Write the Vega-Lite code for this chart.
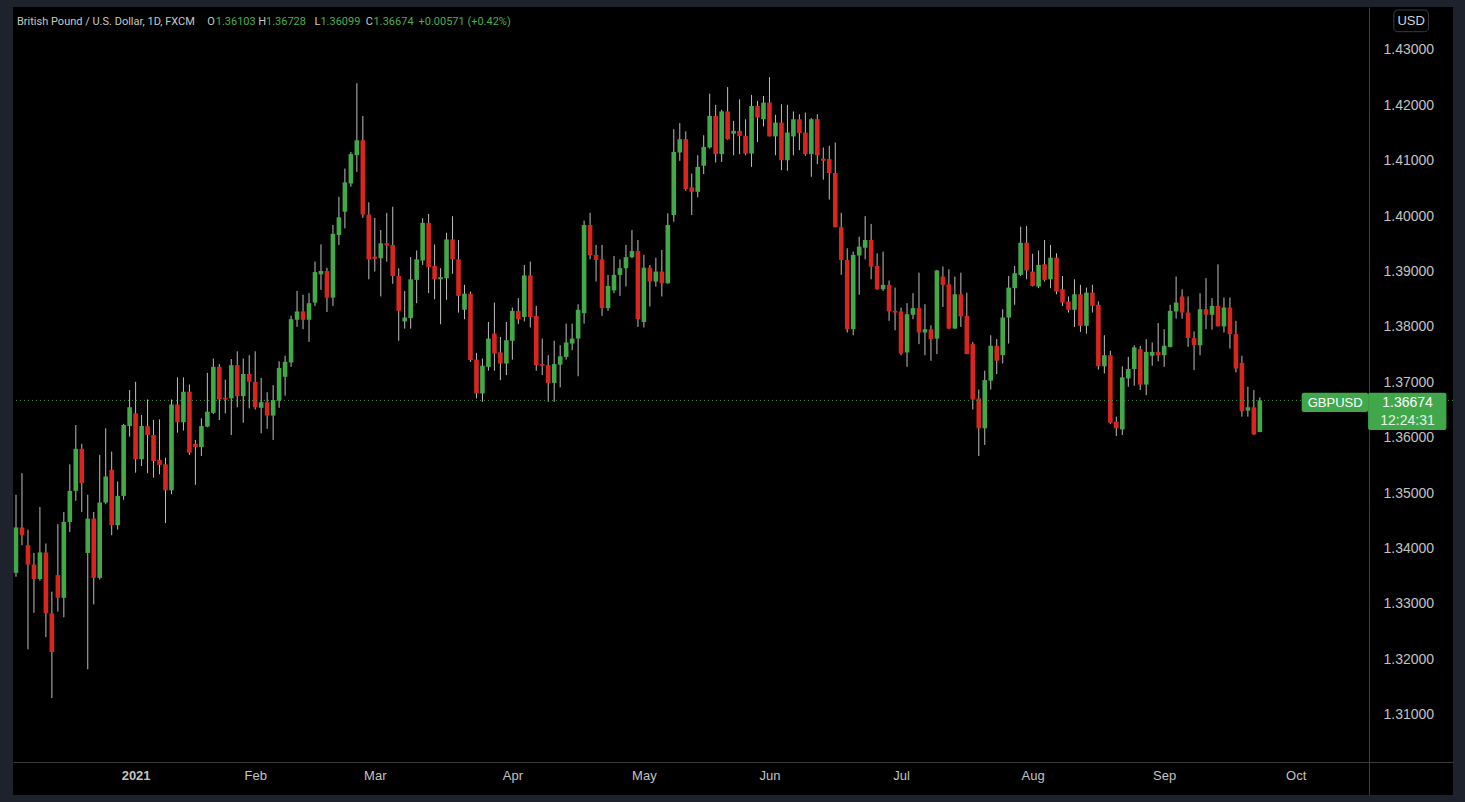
{
  "$schema": "https://vega.github.io/schema/vega-lite/v6.json",
  "width": 1440,
  "height": 788,
  "autosize": {"type": "none"},
  "padding": {"left": 13, "top": 7, "right": 12, "bottom": 7},
  "background": "#1e222d",
  "config": {
    "view": {"fill": "#000000", "stroke": null},
    "axis": {"title": null, "grid": false},
    "text": {"font": "Roboto", "fontSize": 11, "align": "left", "baseline": "middle"}
  },
  "data": {
    "values": [
      {"d":"2020-12-03","o":1.3356,"h":1.3497,"l":1.3349,"c":1.3438},
      {"d":"2020-12-04","o":1.3438,"h":1.3536,"l":1.3406,"c":1.3424},
      {"d":"2020-12-07","o":1.3406,"h":1.3434,"l":1.3218,"c":1.3371},
      {"d":"2020-12-08","o":1.3371,"h":1.3392,"l":1.3284,"c":1.3345},
      {"d":"2020-12-09","o":1.3345,"h":1.3475,"l":1.3342,"c":1.3393},
      {"d":"2020-12-10","o":1.3393,"h":1.3409,"l":1.3240,"c":1.3283},
      {"d":"2020-12-11","o":1.3283,"h":1.3322,"l":1.3130,"c":1.3213},
      {"d":"2020-12-14","o":1.3352,"h":1.3444,"l":1.3286,"c":1.3311},
      {"d":"2020-12-15","o":1.3311,"h":1.3466,"l":1.3276,"c":1.3448},
      {"d":"2020-12-16","o":1.3448,"h":1.3552,"l":1.3430,"c":1.3504},
      {"d":"2020-12-17","o":1.3504,"h":1.3623,"l":1.3486,"c":1.3580},
      {"d":"2020-12-18","o":1.3580,"h":1.3589,"l":1.3466,"c":1.3518},
      {"d":"2020-12-21","o":1.3392,"h":1.3497,"l":1.3182,"c":1.3454},
      {"d":"2020-12-22","o":1.3454,"h":1.3466,"l":1.3299,"c":1.3347},
      {"d":"2020-12-23","o":1.3347,"h":1.3569,"l":1.3344,"c":1.3483},
      {"d":"2020-12-24","o":1.3483,"h":1.3617,"l":1.3480,"c":1.3530},
      {"d":"2020-12-28","o":1.3542,"h":1.3575,"l":1.3424,"c":1.3442},
      {"d":"2020-12-29","o":1.3442,"h":1.3521,"l":1.3434,"c":1.3495},
      {"d":"2020-12-30","o":1.3495,"h":1.3625,"l":1.3488,"c":1.3623},
      {"d":"2020-12-31","o":1.3621,"h":1.3686,"l":1.3602,"c":1.3655},
      {"d":"2021-01-04","o":1.3644,"h":1.3701,"l":1.3537,"c":1.3561},
      {"d":"2021-01-05","o":1.3561,"h":1.3641,"l":1.3549,"c":1.3621},
      {"d":"2021-01-06","o":1.3621,"h":1.3669,"l":1.3536,"c":1.3605},
      {"d":"2021-01-07","o":1.3605,"h":1.3632,"l":1.3528,"c":1.3558},
      {"d":"2021-01-08","o":1.3560,"h":1.3633,"l":1.3534,"c":1.3551},
      {"d":"2021-01-11","o":1.3552,"h":1.3564,"l":1.3446,"c":1.3505},
      {"d":"2021-01-12","o":1.3505,"h":1.3669,"l":1.3498,"c":1.3660},
      {"d":"2021-01-13","o":1.3660,"h":1.3709,"l":1.3609,"c":1.3628},
      {"d":"2021-01-14","o":1.3628,"h":1.3709,"l":1.3613,"c":1.3683},
      {"d":"2021-01-15","o":1.3683,"h":1.3696,"l":1.3569,"c":1.3573},
      {"d":"2021-01-18","o":1.3589,"h":1.3596,"l":1.3515,"c":1.3583},
      {"d":"2021-01-19","o":1.3583,"h":1.3635,"l":1.3567,"c":1.3621},
      {"d":"2021-01-20","o":1.3620,"h":1.3717,"l":1.3619,"c":1.3647},
      {"d":"2021-01-21","o":1.3645,"h":1.3743,"l":1.3643,"c":1.3728},
      {"d":"2021-01-22","o":1.3728,"h":1.3733,"l":1.3632,"c":1.3669},
      {"d":"2021-01-25","o":1.3672,"h":1.3705,"l":1.3644,"c":1.3669},
      {"d":"2021-01-26","o":1.3671,"h":1.3742,"l":1.3605,"c":1.3731},
      {"d":"2021-01-27","o":1.3731,"h":1.3756,"l":1.3655,"c":1.3675},
      {"d":"2021-01-28","o":1.3675,"h":1.3743,"l":1.3627,"c":1.3715},
      {"d":"2021-01-29","o":1.3715,"h":1.3749,"l":1.3653,"c":1.3701},
      {"d":"2021-02-01","o":1.3701,"h":1.3756,"l":1.3651,"c":1.3655},
      {"d":"2021-02-02","o":1.3654,"h":1.3708,"l":1.3608,"c":1.3664},
      {"d":"2021-02-03","o":1.3664,"h":1.3682,"l":1.3616,"c":1.3640},
      {"d":"2021-02-04","o":1.3640,"h":1.3695,"l":1.3596,"c":1.3668},
      {"d":"2021-02-05","o":1.3667,"h":1.3738,"l":1.3654,"c":1.3726},
      {"d":"2021-02-08","o":1.3710,"h":1.3748,"l":1.3676,"c":1.3737},
      {"d":"2021-02-09","o":1.3736,"h":1.3820,"l":1.3728,"c":1.3814},
      {"d":"2021-02-10","o":1.3813,"h":1.3865,"l":1.3800,"c":1.3828},
      {"d":"2021-02-11","o":1.3828,"h":1.3858,"l":1.3796,"c":1.3813},
      {"d":"2021-02-12","o":1.3813,"h":1.3861,"l":1.3773,"c":1.3843},
      {"d":"2021-02-15","o":1.3844,"h":1.3918,"l":1.3838,"c":1.3899},
      {"d":"2021-02-16","o":1.3895,"h":1.3949,"l":1.3867,"c":1.3901},
      {"d":"2021-02-17","o":1.3901,"h":1.3907,"l":1.3827,"c":1.3853},
      {"d":"2021-02-18","o":1.3853,"h":1.3984,"l":1.3838,"c":1.3968},
      {"d":"2021-02-19","o":1.3966,"h":1.4035,"l":1.3948,"c":1.3998},
      {"d":"2021-02-22","o":1.4008,"h":1.4086,"l":1.3978,"c":1.4061},
      {"d":"2021-02-23","o":1.4059,"h":1.4116,"l":1.4053,"c":1.4112},
      {"d":"2021-02-24","o":1.4110,"h":1.4240,"l":1.4080,"c":1.4137},
      {"d":"2021-02-25","o":1.4137,"h":1.4181,"l":1.3997,"c":1.4003},
      {"d":"2021-02-26","o":1.4003,"h":1.4025,"l":1.3886,"c":1.3922},
      {"d":"2021-03-01","o":1.3927,"h":1.3997,"l":1.3900,"c":1.3923},
      {"d":"2021-03-02","o":1.3924,"h":1.3975,"l":1.3855,"c":1.3951},
      {"d":"2021-03-03","o":1.3951,"h":1.4006,"l":1.3918,"c":1.3947},
      {"d":"2021-03-04","o":1.3948,"h":1.4017,"l":1.3878,"c":1.3892},
      {"d":"2021-03-05","o":1.3892,"h":1.3906,"l":1.3775,"c":1.3829},
      {"d":"2021-03-08","o":1.3810,"h":1.3865,"l":1.3797,"c":1.3817},
      {"d":"2021-03-09","o":1.3816,"h":1.3926,"l":1.3797,"c":1.3886},
      {"d":"2021-03-10","o":1.3885,"h":1.3938,"l":1.3843,"c":1.3922},
      {"d":"2021-03-11","o":1.3920,"h":1.3996,"l":1.3912,"c":1.3988},
      {"d":"2021-03-12","o":1.3988,"h":1.4004,"l":1.3861,"c":1.3908},
      {"d":"2021-03-15","o":1.3910,"h":1.3949,"l":1.3850,"c":1.3886},
      {"d":"2021-03-16","o":1.3886,"h":1.3906,"l":1.3805,"c":1.3890},
      {"d":"2021-03-17","o":1.3888,"h":1.3970,"l":1.3849,"c":1.3958},
      {"d":"2021-03-18","o":1.3958,"h":1.4000,"l":1.3896,"c":1.3922},
      {"d":"2021-03-19","o":1.3922,"h":1.3957,"l":1.3826,"c":1.3856},
      {"d":"2021-03-22","o":1.3831,"h":1.3876,"l":1.3814,"c":1.3860},
      {"d":"2021-03-23","o":1.3860,"h":1.3864,"l":1.3737,"c":1.3740},
      {"d":"2021-03-24","o":1.3741,"h":1.3753,"l":1.3671,"c":1.3680},
      {"d":"2021-03-25","o":1.3680,"h":1.3743,"l":1.3665,"c":1.3730},
      {"d":"2021-03-26","o":1.3728,"h":1.3809,"l":1.3721,"c":1.3779},
      {"d":"2021-03-29","o":1.3788,"h":1.3844,"l":1.3721,"c":1.3752},
      {"d":"2021-03-30","o":1.3754,"h":1.3782,"l":1.3704,"c":1.3734},
      {"d":"2021-03-31","o":1.3734,"h":1.3809,"l":1.3713,"c":1.3776},
      {"d":"2021-04-01","o":1.3775,"h":1.3835,"l":1.3741,"c":1.3829},
      {"d":"2021-04-02","o":1.3829,"h":1.3852,"l":1.3805,"c":1.3814},
      {"d":"2021-04-05","o":1.3818,"h":1.3912,"l":1.3810,"c":1.3893},
      {"d":"2021-04-06","o":1.3893,"h":1.3918,"l":1.3799,"c":1.3818},
      {"d":"2021-04-07","o":1.3820,"h":1.3838,"l":1.3721,"c":1.3731},
      {"d":"2021-04-08","o":1.3733,"h":1.3779,"l":1.3713,"c":1.3730},
      {"d":"2021-04-09","o":1.3731,"h":1.3749,"l":1.3665,"c":1.3699},
      {"d":"2021-04-12","o":1.3699,"h":1.3775,"l":1.3665,"c":1.3733},
      {"d":"2021-04-13","o":1.3732,"h":1.3767,"l":1.3691,"c":1.3747},
      {"d":"2021-04-14","o":1.3746,"h":1.3806,"l":1.3741,"c":1.3772},
      {"d":"2021-04-15","o":1.3770,"h":1.3806,"l":1.3758,"c":1.3779},
      {"d":"2021-04-16","o":1.3779,"h":1.3841,"l":1.3711,"c":1.3831},
      {"d":"2021-04-19","o":1.3825,"h":1.3992,"l":1.3806,"c":1.3984},
      {"d":"2021-04-20","o":1.3984,"h":1.4006,"l":1.3922,"c":1.3930},
      {"d":"2021-04-21","o":1.3930,"h":1.3948,"l":1.3882,"c":1.3921},
      {"d":"2021-04-22","o":1.3922,"h":1.3948,"l":1.3820,"c":1.3834},
      {"d":"2021-04-23","o":1.3834,"h":1.3894,"l":1.3829,"c":1.3874},
      {"d":"2021-04-26","o":1.3866,"h":1.3928,"l":1.3861,"c":1.3894},
      {"d":"2021-04-27","o":1.3894,"h":1.3922,"l":1.3856,"c":1.3906},
      {"d":"2021-04-28","o":1.3906,"h":1.3948,"l":1.3873,"c":1.3926},
      {"d":"2021-04-29","o":1.3926,"h":1.3975,"l":1.3924,"c":1.3937},
      {"d":"2021-04-30","o":1.3937,"h":1.3957,"l":1.3800,"c":1.3814},
      {"d":"2021-05-03","o":1.3809,"h":1.3930,"l":1.3799,"c":1.3907},
      {"d":"2021-05-04","o":1.3907,"h":1.3912,"l":1.3837,"c":1.3882},
      {"d":"2021-05-05","o":1.3882,"h":1.3925,"l":1.3873,"c":1.3900},
      {"d":"2021-05-06","o":1.3900,"h":1.3939,"l":1.3855,"c":1.3879},
      {"d":"2021-05-07","o":1.3879,"h":1.4005,"l":1.3878,"c":1.3984},
      {"d":"2021-05-10","o":1.4002,"h":1.4157,"l":1.3990,"c":1.4116},
      {"d":"2021-05-11","o":1.4115,"h":1.4168,"l":1.4100,"c":1.4139},
      {"d":"2021-05-12","o":1.4139,"h":1.4153,"l":1.4046,"c":1.4049},
      {"d":"2021-05-13","o":1.4052,"h":1.4077,"l":1.4002,"c":1.4044},
      {"d":"2021-05-14","o":1.4044,"h":1.4110,"l":1.4034,"c":1.4089},
      {"d":"2021-05-17","o":1.4091,"h":1.4146,"l":1.4076,"c":1.4125},
      {"d":"2021-05-18","o":1.4124,"h":1.4221,"l":1.4122,"c":1.4181},
      {"d":"2021-05-19","o":1.4181,"h":1.4201,"l":1.4097,"c":1.4112},
      {"d":"2021-05-20","o":1.4112,"h":1.4192,"l":1.4098,"c":1.4189},
      {"d":"2021-05-21","o":1.4189,"h":1.4233,"l":1.4138,"c":1.4139},
      {"d":"2021-05-24","o":1.4149,"h":1.4172,"l":1.4110,"c":1.4154},
      {"d":"2021-05-25","o":1.4154,"h":1.4211,"l":1.4112,"c":1.4145},
      {"d":"2021-05-26","o":1.4145,"h":1.4175,"l":1.4110,"c":1.4113},
      {"d":"2021-05-27","o":1.4113,"h":1.4219,"l":1.4089,"c":1.4199},
      {"d":"2021-05-28","o":1.4199,"h":1.4208,"l":1.4134,"c":1.4178},
      {"d":"2021-05-31","o":1.4175,"h":1.4217,"l":1.4162,"c":1.4205},
      {"d":"2021-06-01","o":1.4205,"h":1.4251,"l":1.4144,"c":1.4144},
      {"d":"2021-06-02","o":1.4144,"h":1.4183,"l":1.4110,"c":1.4169},
      {"d":"2021-06-03","o":1.4169,"h":1.4202,"l":1.4083,"c":1.4101},
      {"d":"2021-06-04","o":1.4101,"h":1.4201,"l":1.4082,"c":1.4151},
      {"d":"2021-06-07","o":1.4144,"h":1.4189,"l":1.4110,"c":1.4175},
      {"d":"2021-06-08","o":1.4175,"h":1.4184,"l":1.4119,"c":1.4150},
      {"d":"2021-06-09","o":1.4151,"h":1.4187,"l":1.4109,"c":1.4112},
      {"d":"2021-06-10","o":1.4112,"h":1.4177,"l":1.4071,"c":1.4175},
      {"d":"2021-06-11","o":1.4175,"h":1.4184,"l":1.4094,"c":1.4110},
      {"d":"2021-06-14","o":1.4104,"h":1.4124,"l":1.4066,"c":1.4100},
      {"d":"2021-06-15","o":1.4103,"h":1.4127,"l":1.4030,"c":1.4078},
      {"d":"2021-06-16","o":1.4078,"h":1.4133,"l":1.3980,"c":1.3980},
      {"d":"2021-06-17","o":1.3980,"h":1.4006,"l":1.3894,"c":1.3921},
      {"d":"2021-06-18","o":1.3921,"h":1.3942,"l":1.3790,"c":1.3796},
      {"d":"2021-06-21","o":1.3796,"h":1.3936,"l":1.3785,"c":1.3930},
      {"d":"2021-06-22","o":1.3929,"h":1.3963,"l":1.3858,"c":1.3945},
      {"d":"2021-06-23","o":1.3943,"h":1.4000,"l":1.3922,"c":1.3957},
      {"d":"2021-06-24","o":1.3957,"h":1.3986,"l":1.3886,"c":1.3909},
      {"d":"2021-06-25","o":1.3910,"h":1.3933,"l":1.3867,"c":1.3868},
      {"d":"2021-06-28","o":1.3868,"h":1.3936,"l":1.3865,"c":1.3876},
      {"d":"2021-06-29","o":1.3876,"h":1.3884,"l":1.3811,"c":1.3828},
      {"d":"2021-06-30","o":1.3829,"h":1.3871,"l":1.3794,"c":1.3826},
      {"d":"2021-07-01","o":1.3828,"h":1.3835,"l":1.3749,"c":1.3752},
      {"d":"2021-07-02","o":1.3754,"h":1.3843,"l":1.3728,"c":1.3823},
      {"d":"2021-07-05","o":1.3822,"h":1.3861,"l":1.3814,"c":1.3834},
      {"d":"2021-07-06","o":1.3834,"h":1.3898,"l":1.3769,"c":1.3790},
      {"d":"2021-07-07","o":1.3790,"h":1.3841,"l":1.3749,"c":1.3796},
      {"d":"2021-07-08","o":1.3796,"h":1.3803,"l":1.3739,"c":1.3778},
      {"d":"2021-07-09","o":1.3779,"h":1.3903,"l":1.3751,"c":1.3902},
      {"d":"2021-07-12","o":1.3891,"h":1.3909,"l":1.3836,"c":1.3876},
      {"d":"2021-07-13","o":1.3877,"h":1.3904,"l":1.3796,"c":1.3797},
      {"d":"2021-07-14","o":1.3797,"h":1.3891,"l":1.3797,"c":1.3859},
      {"d":"2021-07-15","o":1.3859,"h":1.3898,"l":1.3800,"c":1.3819},
      {"d":"2021-07-16","o":1.3820,"h":1.3862,"l":1.3751,"c":1.3751},
      {"d":"2021-07-19","o":1.3769,"h":1.3773,"l":1.3651,"c":1.3669},
      {"d":"2021-07-20","o":1.3671,"h":1.3687,"l":1.3567,"c":1.3617},
      {"d":"2021-07-21","o":1.3617,"h":1.3721,"l":1.3587,"c":1.3704},
      {"d":"2021-07-22","o":1.3703,"h":1.3785,"l":1.3687,"c":1.3766},
      {"d":"2021-07-23","o":1.3766,"h":1.3778,"l":1.3715,"c":1.3739},
      {"d":"2021-07-26","o":1.3749,"h":1.3832,"l":1.3734,"c":1.3817},
      {"d":"2021-07-27","o":1.3817,"h":1.3892,"l":1.3770,"c":1.3871},
      {"d":"2021-07-28","o":1.3870,"h":1.3910,"l":1.3840,"c":1.3897},
      {"d":"2021-07-29","o":1.3894,"h":1.3981,"l":1.3892,"c":1.3952},
      {"d":"2021-07-30","o":1.3952,"h":1.3982,"l":1.3886,"c":1.3902},
      {"d":"2021-08-02","o":1.3900,"h":1.3932,"l":1.3873,"c":1.3874},
      {"d":"2021-08-03","o":1.3873,"h":1.3938,"l":1.3870,"c":1.3912},
      {"d":"2021-08-04","o":1.3913,"h":1.3957,"l":1.3882,"c":1.3885},
      {"d":"2021-08-05","o":1.3886,"h":1.3948,"l":1.3870,"c":1.3925},
      {"d":"2021-08-06","o":1.3925,"h":1.3933,"l":1.3859,"c":1.3864},
      {"d":"2021-08-09","o":1.3868,"h":1.3892,"l":1.3838,"c":1.3844},
      {"d":"2021-08-10","o":1.3846,"h":1.3855,"l":1.3826,"c":1.3831},
      {"d":"2021-08-11","o":1.3831,"h":1.3886,"l":1.3800,"c":1.3859},
      {"d":"2021-08-12","o":1.3859,"h":1.3876,"l":1.3791,"c":1.3802},
      {"d":"2021-08-13","o":1.3802,"h":1.3871,"l":1.3788,"c":1.3862},
      {"d":"2021-08-16","o":1.3862,"h":1.3876,"l":1.3826,"c":1.3838},
      {"d":"2021-08-17","o":1.3840,"h":1.3846,"l":1.3723,"c":1.3729},
      {"d":"2021-08-18","o":1.3729,"h":1.3785,"l":1.3716,"c":1.3749},
      {"d":"2021-08-19","o":1.3749,"h":1.3757,"l":1.3625,"c":1.3627},
      {"d":"2021-08-20","o":1.3629,"h":1.3638,"l":1.3603,"c":1.3617},
      {"d":"2021-08-23","o":1.3615,"h":1.3729,"l":1.3605,"c":1.3709},
      {"d":"2021-08-24","o":1.3707,"h":1.3746,"l":1.3692,"c":1.3724},
      {"d":"2021-08-25","o":1.3724,"h":1.3767,"l":1.3694,"c":1.3763},
      {"d":"2021-08-26","o":1.3760,"h":1.3766,"l":1.3686,"c":1.3696},
      {"d":"2021-08-27","o":1.3696,"h":1.3778,"l":1.3677,"c":1.3755},
      {"d":"2021-08-30","o":1.3748,"h":1.3772,"l":1.3730,"c":1.3755},
      {"d":"2021-08-31","o":1.3755,"h":1.3807,"l":1.3738,"c":1.3749},
      {"d":"2021-09-01","o":1.3749,"h":1.3796,"l":1.3728,"c":1.3766},
      {"d":"2021-09-02","o":1.3764,"h":1.3840,"l":1.3763,"c":1.3829},
      {"d":"2021-09-03","o":1.3828,"h":1.3891,"l":1.3815,"c":1.3844},
      {"d":"2021-09-06","o":1.3855,"h":1.3868,"l":1.3815,"c":1.3826},
      {"d":"2021-09-07","o":1.3826,"h":1.3855,"l":1.3764,"c":1.3780},
      {"d":"2021-09-08","o":1.3780,"h":1.3792,"l":1.3722,"c":1.3767},
      {"d":"2021-09-09","o":1.3767,"h":1.3861,"l":1.3749,"c":1.3832},
      {"d":"2021-09-10","o":1.3832,"h":1.3888,"l":1.3796,"c":1.3822},
      {"d":"2021-09-13","o":1.3822,"h":1.3852,"l":1.3795,"c":1.3838},
      {"d":"2021-09-14","o":1.3838,"h":1.3913,"l":1.3801,"c":1.3801},
      {"d":"2021-09-15","o":1.3801,"h":1.3853,"l":1.3790,"c":1.3835},
      {"d":"2021-09-16","o":1.3835,"h":1.3853,"l":1.3761,"c":1.3787},
      {"d":"2021-09-17","o":1.3787,"h":1.3811,"l":1.3718,"c":1.3725},
      {"d":"2021-09-20","o":1.3735,"h":1.3748,"l":1.3638,"c":1.3648},
      {"d":"2021-09-21","o":1.3649,"h":1.3692,"l":1.3638,"c":1.3655},
      {"d":"2021-09-22","o":1.3655,"h":1.3686,"l":1.3605,"c":1.3606},
      {"d":"2021-09-23","o":1.36103,"h":1.36728,"l":1.36099,"c":1.36674}
    ]
  },
  "transform": [{"window": [{"op": "row_number", "as": "rn"}], "sort": [{"field": "d"}]}],
  "layer": [
    {
      "mark": {"type": "rule", "color": "#bdbdbd", "strokeWidth": 1},
      "encoding": {
        "x": {
          "field": "rn", "type": "quantitative",
          "scale": {"domain": [0.4983, 241.3], "nice": false, "zero": false, "padding": 0},
          "axis": {
            "orient": "bottom", "offset": -33,
            "values": [21, 41, 61, 84, 106, 127, 149, 171, 193, 215],
            "labelExpr": "['2021','Feb','Mar','Apr','May','Jun','Jul','Aug','Sep','Oct'][indexof([21,41,61,84,106,127,149,171,193,215], datum.value)]",
            "labelFontWeight": {"condition": {"test": "datum.value == 21", "value": "bold"}, "value": "normal"},
            "ticks": false, "tickSize": 0, "domainColor": "#3b3b3b",
            "labelPadding": 7, "labelColor": "#c3c3c3", "labelFontSize": 13,
            "labelFont": "Liberation Sans", "labelFlush": false, "labelOverlap": false, "labelBound": false, "title": null
          }
        },
        "y": {
          "field": "l", "type": "quantitative",
          "scale": {"domain": [1.295499, 1.437763], "nice": false, "zero": false, "padding": 0},
          "axis": {
            "orient": "right", "offset": -84,
            "values": [1.31, 1.32, 1.33, 1.34, 1.35, 1.36, 1.37, 1.38, 1.39, 1.40, 1.41, 1.42, 1.43],
            "format": ".5f", "ticks": false, "tickSize": 0, "domainColor": "#3b3b3b",
            "labelPadding": 14, "labelColor": "#c3c3c3", "labelFontSize": 14,
            "labelFont": "Liberation Sans", "labelAlign": "left", "labelBaseline": "middle",
            "labelFlush": false, "labelOverlap": false, "labelBound": false, "title": null
          }
        },
        "y2": {"field": "h"}
      }
    },
    {
      "mark": {"type": "bar", "size": 4.6},
      "encoding": {
        "x": {"field": "rn", "type": "quantitative"},
        "y": {"field": "o", "type": "quantitative"},
        "y2": {"field": "c"},
        "color": {"condition": {"test": "datum.c >= datum.o", "value": "#43a847"}, "value": "#d8261f"}
      }
    },
    {
      "data": {"values": [{}]},
      "mark": {"type": "rule", "color": "#4caf50", "strokeDash": [1, 3], "strokeWidth": 1, "opacity": 0.85},
      "encoding": {"y": {"datum": 1.36674, "type": "quantitative"}}
    },
    {
      "data": {"values": [{}]},
      "mark": {"type": "rect", "color": "#40a84a", "cornerRadius": 2},
      "encoding": {
        "x": {"datum": 216.0, "type": "quantitative"}, "x2": {"datum": 227.1},
        "y": {"datum": 1.368129, "type": "quantitative"}, "y2": {"datum": 1.364646}
      }
    },
    {
      "data": {"values": [{}]},
      "mark": {"type": "rect", "color": "#40a84a", "cornerRadius": 2},
      "encoding": {
        "x": {"datum": 227.1, "type": "quantitative"}, "x2": {"datum": 240.2},
        "y": {"datum": 1.368129, "type": "quantitative"}, "y2": {"datum": 1.361397}
      }
    },
    {
      "data": {"values": [{}]},
      "mark": {"type": "text", "text": "GBPUSD", "color": "#ffffff", "font": "Liberation Sans", "fontSize": 13, "align": "center"},
      "encoding": {"x": {"datum": 221.6, "type": "quantitative"}, "y": {"datum": 1.36636, "type": "quantitative"}}
    },
    {
      "data": {"values": [{}]},
      "mark": {"type": "text", "text": "1.36674", "color": "#ffffff", "font": "Liberation Sans", "fontSize": 14, "align": "center"},
      "encoding": {"x": {"datum": 233.7, "type": "quantitative"}, "y": {"datum": 1.366324, "type": "quantitative"}}
    },
    {
      "data": {"values": [{}]},
      "mark": {"type": "text", "text": "12:24:31", "color": "#e2f4e3", "font": "Liberation Sans", "fontSize": 14, "align": "center"},
      "encoding": {"x": {"datum": 233.7, "type": "quantitative"}, "y": {"datum": 1.363074, "type": "quantitative"}}
    },
    {
      "data": {"values": [{}]},
      "mark": {"type": "rect", "fill": "#000000", "stroke": "#3a3d45", "strokeWidth": 1, "cornerRadius": 4},
      "encoding": {
        "x": {"datum": 231.4, "type": "quantitative"}, "x2": {"datum": 237.2},
        "y": {"datum": 1.437222, "type": "quantitative"}, "y2": {"datum": 1.433304}
      }
    },
    {
      "data": {"values": [{}]},
      "mark": {"type": "text", "text": "USD", "color": "#d1d4dc", "font": "Liberation Sans", "fontSize": 13, "align": "center"},
      "encoding": {"x": {"datum": 234.3, "type": "quantitative"}, "y": {"datum": 1.435236, "type": "quantitative"}}
    },
    {
      "data": {"values": [{}]},
      "mark": {"type": "text", "text": "British Pound / U.S. Dollar, 1D, FXCM", "color": "#c8c8c8"},
      "encoding": {"x": {"datum": 1.167, "type": "quantitative"}, "y": {"datum": 1.435145, "type": "quantitative"}}
    },
    {
      "data": {"values": [{}]},
      "mark": {"type": "text", "text": "O", "color": "#c8c8c8"},
      "encoding": {"x": {"datum": 33.0, "type": "quantitative"}, "y": {"datum": 1.435145, "type": "quantitative"}}
    },
    {
      "data": {"values": [{}]},
      "mark": {"type": "text", "text": "1.36103", "color": "#4caf50"},
      "encoding": {"x": {"datum": 34.4, "type": "quantitative"}, "y": {"datum": 1.435145, "type": "quantitative"}}
    },
    {
      "data": {"values": [{}]},
      "mark": {"type": "text", "text": "H", "color": "#c8c8c8"},
      "encoding": {"x": {"datum": 41.5, "type": "quantitative"}, "y": {"datum": 1.435145, "type": "quantitative"}}
    },
    {
      "data": {"values": [{}]},
      "mark": {"type": "text", "text": "1.36728", "color": "#4caf50"},
      "encoding": {"x": {"datum": 42.8, "type": "quantitative"}, "y": {"datum": 1.435145, "type": "quantitative"}}
    },
    {
      "data": {"values": [{}]},
      "mark": {"type": "text", "text": "L", "color": "#c8c8c8"},
      "encoding": {"x": {"datum": 50.9, "type": "quantitative"}, "y": {"datum": 1.435145, "type": "quantitative"}}
    },
    {
      "data": {"values": [{}]},
      "mark": {"type": "text", "text": "1.36099", "color": "#4caf50"},
      "encoding": {"x": {"datum": 51.9, "type": "quantitative"}, "y": {"datum": 1.435145, "type": "quantitative"}}
    },
    {
      "data": {"values": [{}]},
      "mark": {"type": "text", "text": "C", "color": "#c8c8c8"},
      "encoding": {"x": {"datum": 59.5, "type": "quantitative"}, "y": {"datum": 1.435145, "type": "quantitative"}}
    },
    {
      "data": {"values": [{}]},
      "mark": {"type": "text", "text": "1.36674", "color": "#4caf50"},
      "encoding": {"x": {"datum": 60.8, "type": "quantitative"}, "y": {"datum": 1.435145, "type": "quantitative"}}
    },
    {
      "data": {"values": [{}]},
      "mark": {"type": "text", "text": "+0.00571 (+0.42%)", "color": "#4caf50"},
      "encoding": {"x": {"datum": 68.3, "type": "quantitative"}, "y": {"datum": 1.435145, "type": "quantitative"}}
    }
  ]
}
